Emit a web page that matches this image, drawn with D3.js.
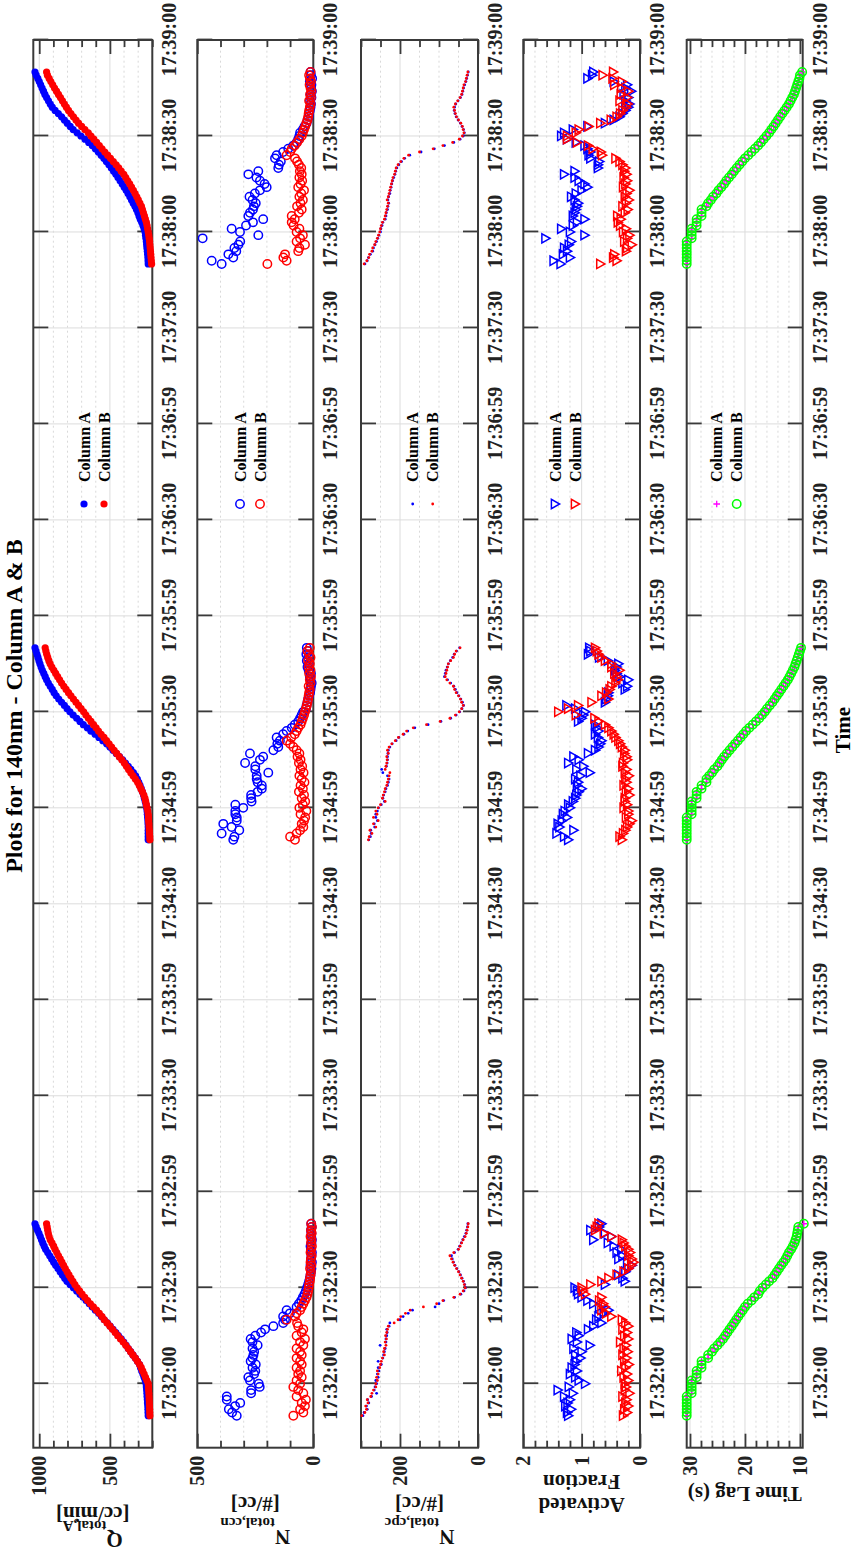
<!DOCTYPE html>
<html>
<head>
<meta charset="utf-8">
<title>Plots for 140nm - Column A &amp; B</title>
<script src="https://cdn.jsdelivr.net/npm/d3@7"></script>
<style>
  body { margin: 0; background: #fff; }
  svg text { font-family: 'Liberation Serif', serif; font-weight: bold; }
</style>
</head>
<body>
<svg id="chart" width="855" height="1560"></svg>
<script>
// ---- data ----
// time tick labels exactly as printed
const tickLabels = ['17:32:00', '17:32:30', '17:32:59', '17:33:30', '17:33:59', '17:34:30', '17:34:59',
  '17:35:30', '17:35:59', '17:36:30', '17:36:59', '17:37:30', '17:38:00', '17:38:30', '17:39:00'];

// three scans, one sample per second starting here
const burstStarts = ['17:31:50', '17:34:50', '17:37:50'];

// Q total,A [cc/min]
const qA = [
  [229,230,231,232,234,235,237,238,240,242, 244,250,258,266,275,283,290,305,320,337, 353,370,385,402,420,440,458,478,498,518,
   540,560,580,603,625,646,668,690,712,735, 758,782,804,820,836,852,868,884,898,912, 926,940,955,965,975,984,993,1002,1012,1022, 1030],
  [229,229,229,229,229,230,231,233,235,237, 240,244,250,256,262,270,278,287,296,306, 318,334,352,370,390,410,432,455,478,500,
   523,550,578,605,635,660,688,712,735,760, 783,803,822,842,862,880,895,908,922,936, 948,958,968,978,987,995,1002,1009,1016,1023, 1030],
  [229,230,231,233,235,238,240,242,245,248, 251,258,266,275,285,294,302,312,323,335, 347,359,372,385,399,413,428,443,458,474,
   490,507,525,543,562,582,603,625,650,676, 705,732,760,781,802,822,842,865,888,908, 922,935,948,960,970,980,990,1000,1010,1022, 1030]
];
const qB = [
  [217,218,219,220,221,222,223,224,226,227, 229,238,248,258,268,278,290,305,320,337, 354,370,388,406,425,445,463,482,500,520,
   540,556,575,595,617,638,658,678,697,715, 732,748,762,776,790,803,816,828,840,852, 864,876,888,898,910,922,930,936,940,944, 948],
  [217,218,220,221,223,224,226,227,229,232, 237,242,247,252,260,270,281,292,304,320, 336,352,368,383,398,416,434,452,470,488,
   506,524,542,562,581,598,616,634,652,670, 686,704,722,740,758,776,793,810,826,842, 856,870,884,897,911,923,932,940,947,953, 958],
  [205,207,209,211,213,215,217,219,222,225, 229,233,237,242,249,256,263,270,277,288, 299,310,322,334,347,360,374,388,402,420,
   438,456,476,496,516,536,556,575,594,614, 634,653,677,700,722,740,758,776,793,808, 822,836,850,864,878,892,905,918,930,942, 948]
];

// N total,ccn [#/cc]
const ccnA = [
  [330,350,364,337,315,373,373,268,268,231, 235,273,280,255,250,262,248,270,262,258, 255,262,240,262,270,250,225,208,172,130,
   122,130,101,115,72,62,52,45,38,32, 27,22,18,15,12,10,8,12,6,10, 8,6,10,12,8,6,9,8,10,7, 9],
  [345,340,395,319,352,388,330,330,336,336, 302,336,266,268,268,240,222,222,240,244, 244,194,250,250,294,230,216,273,172,151,
   155,144,158,130,115,93,80,65,57,50, 43,32,29,25,22,18,14,12,10,7, 12,15,10,20,25,18,28,22,30,25, 28],
  [395,438,345,366,332,340,323,315,477,237, 316,352,290,260,216,280,273,260,256,248, 262,275,252,230,201,210,230,245,280,237,
   151,148,140,165,158,130,108,86,72,65, 60,57,45,38,29,25,20,18,15,12, 10,14,8,12,6,10,8,15,5,10, 12]
];
const ccnB = [
  [86,43,57,36,50,32,72,43,65,86, 57,72,50,65,57,72,50,57,72,50, 57,72,43,57,36,72,50,43,65,70,
   115,79,72,57,50,43,36,29,25,22, 20,18,15,14,12,10,14,8,12,10, 7,12,9,6,10,8,12,7,10,6, 9],
  [79,100,72,57,43,50,40,35,55,30, 60,45,35,50,40,62,45,55,38,50, 60,42,55,48,62,55,68,60,72,86,
   100,115,95,80,72,65,55,50,45,40, 36,32,28,25,22,20,18,15,20,12, 15,10,18,12,20,15,22,12,18,25, 15],
  [198,115,129,122,65,60,36,72,57,45, 72,60,85,93,80,93,62,50,70,55, 45,60,52,40,65,55,48,60,50,58,
   52,62,70,79,115,100,93,80,70,60, 50,45,40,35,30,25,22,20,18,15, 12,18,10,14,8,12,16,10,14,18, 12]
];

// N total,cpc [#/cc]
const cpcA = [
  [295,292,284,286,280,283,273,260,266,264, 260,262,256,258,254,256,248,256,244,242, 240,238,251,236,236,234,233,234,228,226,
   200,192,179,168,110,100,88,60,44,36, 32,34,37,41,45,49,54,59,63,66, 68,60,51,47,43,39,35,31,29,27, 26],
  [280,276,274,275,265,266,258,262,262,258, 255,248,240,244,242,238,236,232,230,228, 232,244,247,235,233,232,232,231,230,226,
   220,210,203,190,180,162,128,95,70,56, 47,41,37,40,44,49,54,58,62,70, 78,86,84,82,79,76,71,65,61,55, 47],
  [290,284,281,276,270,268,264,260,257,254, 250,249,246,244,238,236,235,232,231,229, 231,229,226,225,223,221,219,216,213,211,
   208,203,196,188,175,146,112,86,62,46, 38,35,37,41,45,51,56,59,61,60, 57,51,45,41,39,37,34,31,29,27, 25]
];
const cpcB = [
  [298,290,286,288,282,284,275,272,268,262, 262,258,260,256,258,252,250,248,245,240, 242,240,236,238,235,237,234,232,230,215,
   205,198,186,174,140,106,90,62,46,38, 33,35,38,42,46,50,55,60,64,68, 72,62,50,46,42,38,33,30,28,26, 25],
  [281,279,272,277,262,268,256,268,259,262, 256,250,238,245,243,240,238,234,232,230, 228,226,238,236,234,233,234,230,232,228,
   221,212,204,192,183,166,132,97,72,58, 48,42,38,42,45,50,56,60,63,72, 80,84,82,80,78,76,70,63,60,56, 46],
  [292,285,280,278,272,270,265,262,258,255, 252,250,248,245,240,238,236,234,232,230, 233,230,228,226,224,222,220,218,214,212,
   210,205,198,190,178,150,115,90,65,48, 40,36,38,40,44,50,55,58,60,62, 58,52,46,42,40,38,36,32,30,28, 26]
];

// Activated Fraction
const afA = [
  [1.23,1.25,1.18,1.28,1.24,1.20,1.30,1.15,1.41,1.22, 0.94,1.05,1.11,1.20,1.08,1.17,1.12,1.09,1.02,1.11, 1.00,1.14,0.86,1.08,1.17,1.05,1.09,0.89,0.80,0.66,
   0.75,0.71,0.62,0.54,0.70,0.80,0.90,1.00,1.06,1.08, 1.12,0.60,0.26,0.30,0.37,0.25,0.20,0.14,0.22,0.37, 0.30,0.40,0.32,0.45,0.55,0.80,0.49,0.60,0.85,0.70, 0.66],
  [1.23,1.30,1.43,1.14,1.38,1.41,1.34,1.25,1.32,1.29, 1.20,1.23,1.15,1.11,1.09,1.05,1.00,1.08,1.06,1.11, 1.02,0.86,1.09,0.97,1.23,1.05,1.14,0.89,0.77,0.71,
   0.68,0.66,0.72,0.77,0.71,0.74,0.77,1.06,1.00,0.97, 0.94,1.11,1.26,0.60,0.58,0.55,0.54,0.26,0.22,0.30, 0.20,0.35,0.40,0.43,0.40,0.37,0.55,0.70,0.89,0.85, 0.87],
  [1.36,1.48,1.20,1.32,1.25,1.30,1.22,1.18,1.62,0.95, 1.20,1.35,1.15,1.08,0.95,1.15,1.12,1.10,1.08,1.06, 1.12,1.18,1.10,1.00,0.90,0.95,1.05,1.12,1.30,1.12,
   0.72,0.72,0.70,0.85,0.88,0.85,0.90,0.95,1.10,1.25, 1.35,1.30,1.15,0.90,0.60,0.45,0.35,0.30,0.25,0.20, 0.18,0.25,0.20,0.28,0.15,0.25,0.22,0.45,0.90,0.82, 0.80]
];
const afB = [
  [0.29,0.22,0.27,0.20,0.25,0.23,0.30,0.18,0.26,0.24, 0.26,0.20,0.28,0.22,0.32,0.25,0.19,0.27,0.23,0.30, 0.21,0.28,0.24,0.34,0.20,0.27,0.22,0.30,0.20,0.25,
   0.31,0.49,0.58,0.66,0.60,0.63,0.70,0.66,0.94,0.98, 1.00,0.85,0.66,0.54,0.40,0.28,0.20,0.15,0.11,0.14, 0.20,0.17,0.20,0.25,0.28,0.31,0.49,0.62,0.77,0.74, 0.71],
  [0.31,0.35,0.29,0.25,0.22,0.18,0.14,0.24,0.20,0.20, 0.28,0.22,0.26,0.26,0.18,0.24,0.20,0.28,0.23,0.25, 0.19,0.26,0.23,0.30,0.29,0.22,0.23,0.27,0.26,0.31,
   0.34,0.37,0.42,0.45,0.49,0.54,0.60,0.71,0.78,1.10, 1.40,1.23,1.06,0.83,0.54,0.66,0.58,0.52,0.49,0.42, 0.38,0.40,0.44,0.35,0.49,0.49,0.60,0.66,0.71,0.74, 0.77],
  [0.68,0.40,0.46,0.44,0.24,0.22,0.14,0.27,0.22,0.18, 0.29,0.24,0.34,0.38,0.33,0.39,0.26,0.21,0.30,0.24, 0.19,0.26,0.23,0.18,0.29,0.25,0.22,0.28,0.23,0.27,
   0.25,0.30,0.35,0.42,0.65,0.67,0.81,0.89,1.08,1.25, 1.25,1.10,1.05,0.88,0.68,0.50,0.40,0.34,0.30,0.24, 0.21,0.35,0.22,0.33,0.20,0.32,0.44,0.31,0.47,0.64, 0.46]
];

// Time Lag (s) - both columns carry the same lag
const lagA = [
  [30.6,30.6,30.6,30.6,30.6,30.6,30.6,29.7,29.7,29.7, 29.7,29.7,28.8,28.8,28.8,27.9,27.9,27.9,26.7,26.7, 26.0,25.6,25.0,24.5,24.0,23.6,23.2,22.8,22.4,22.0,
   21.6,21.2,20.8,20.4,20.0,19.5,18.8,18.3,17.6,17.3, 16.8,16.2,15.6,15.0,14.6,14.2,13.8,13.4,13.0,12.6, 12.3,12.0,11.6,11.3,11.0,10.8,10.6,10.5,10.4,10.3, 9.3],
  [30.6,30.6,30.6,30.6,30.6,30.6,30.6,30.6,29.7,29.7, 29.7,29.7,29.7,28.8,28.8,28.8,27.9,27.9,27.0,27.0, 26.5,26.0,25.6,25.0,24.6,24.2,23.8,23.3,22.8,22.3,
   21.8,21.3,20.8,20.3,19.8,19.2,18.6,18.0,17.4,16.9, 16.4,16.0,15.5,15.0,14.6,14.2,13.8,13.4,13.0,12.6, 12.2,11.9,11.6,11.3,11.0,10.8,10.6,10.4,10.2,10.0, 9.8],
  [30.6,30.6,30.6,30.6,30.6,30.6,30.6,30.6,29.7,29.7, 29.7,29.7,28.8,28.8,28.8,27.9,27.9,27.9,27.0,26.7, 26.2,25.8,25.2,24.8,24.3,23.8,23.4,22.9,22.4,22.0,
   21.5,21.0,20.5,20.0,19.4,18.8,18.2,17.6,17.1,16.6, 16.1,15.6,15.2,14.8,14.4,14.0,13.6,13.2,12.8,12.4, 12.0,11.7,11.4,11.1,10.9,10.7,10.5,10.3,10.1,10.0, 9.6]
];
const lagB = lagA;

// ---- layout: the figure is drawn landscape and then turned a quarter turn ----
const svg = d3.select('#chart');
const root = svg.append('g').attr('transform', 'translate(0,1560) rotate(-90)');

const parseT = d3.timeParse('%H:%M:%S');
const x = d3.scaleTime()
  .domain([parseT('17:31:40'), parseT('17:39:00')])
  .range([112.3, 1520]);
const tickTimes = d3.timeSecond.every(30).range(parseT('17:32:00'), parseT('17:39:01'));

const INK = '#3a3a3a';

const panels = [
  { top: 33.3, bottom: 152.3, domain: [200, 1042], major: 500, minor: 100,
    A: qA, B: qB, markA: 'disc', markB: 'disc', colA: '#0000ff', colB: '#ff0000', legY: 84,
    label: [{ main: 'Q', sub: 'total,A', at: 27 }, { main: '[cc/min]', at: 53 }] },
  { top: 197.3, bottom: 313.3, domain: [0, 500], major: 500, minor: 100,
    A: ccnA, B: ccnB, markA: 'ring', markB: 'ring', colA: '#0000ff', colB: '#ff0000', legY: 240,
    label: [{ main: 'N', sub: 'total,ccn', at: 30 }, { main: '[#/cc]', at: 63 }] },
  { top: 361, bottom: 478, domain: [0, 300], major: 200, minor: 50,
    A: cpcA, B: cpcB, markA: 'dot', markB: 'dot', colA: '#0000ff', colB: '#ff0000', legY: 412.7,
    label: [{ main: 'N', sub: 'total,cpc', at: 30 }, { main: '[#/cc]', at: 63 }] },
  { top: 523.3, bottom: 640, domain: [0, 2], major: 1, minor: 0.2,
    A: afA, B: afB, markA: 'tri', markB: 'tri', colA: '#0000ff', colB: '#ff0000', legY: 555,
    label: [{ main: 'Activated', at: 62 }, { main: 'Fraction', at: 85 }] },
  { top: 686.7, bottom: 802.7, domain: [9.5, 30.6], major: 10, minor: 2,
    A: lagA, B: lagB, markA: 'plus', markB: 'ring', colA: '#ff00ff', colB: '#00ff00', legY: 716.7,
    label: [{ main: 'Time Lag (s)', at: 73 }] }
];

// one marker of a given kind at (0,0)
function addMark(sel, kind, color) {
  if (kind === 'disc') {
    sel.append('circle').attr('r', 3.6).attr('fill', color);
  } else if (kind === 'ring') {
    sel.append('circle').attr('r', 4.2).attr('fill', 'none').attr('stroke', color).attr('stroke-width', 1.5);
  } else if (kind === 'dot') {
    sel.append('circle').attr('r', 1.4).attr('fill', color);
  } else if (kind === 'tri') {
    sel.append('path').attr('d', 'M-4.6,-3.6L4.6,-3.6L0,4.6Z')
      .attr('fill', 'none').attr('stroke', color).attr('stroke-width', 1.5);
  } else if (kind === 'plus') {
    sel.append('path').attr('d', 'M-3.3,0H3.3M0,-3.3V3.3')
      .attr('stroke', color).attr('stroke-width', 1.3);
  }
}

function seriesPoints(series) {
  const pts = [];
  series.forEach((burst, b) => {
    const t0 = parseT(burstStarts[b]);
    burst.forEach((v, i) => pts.push({ t: d3.timeSecond.offset(t0, i), v }));
  });
  return pts;
}

function styleAxis(g) {
  g.select('.domain').remove();
  g.selectAll('line').attr('stroke', INK).attr('stroke-width', 1.8);
  g.attr('font-family', null).attr('font-size', 20);
  g.selectAll('text').attr('fill', '#222');
}

panels.forEach((p) => {
  const y = d3.scaleLinear().domain(p.domain).range([p.bottom, p.top]);
  const [lo, hi] = p.domain;
  const majors = d3.range(Math.ceil(lo / p.major - 1e-9) * p.major, hi + 1e-9, p.major);
  const minors = d3.range(Math.ceil(lo / p.minor - 1e-9) * p.minor, hi + 1e-9, p.minor)
    .filter((v) => !majors.some((m) => Math.abs(m - v) < 1e-6));
  const g = root.append('g');
  const x0 = x.range()[0], x1 = x.range()[1];

  // grid
  g.append('g').selectAll('line').data(minors).join('line')
    .attr('x1', x0).attr('x2', x1).attr('y1', y).attr('y2', y)
    .attr('stroke', '#cfcfcf').attr('stroke-width', 0.8).attr('stroke-dasharray', '2,3');
  g.append('g').selectAll('line').data(majors).join('line')
    .attr('x1', x0).attr('x2', x1).attr('y1', y).attr('y2', y)
    .attr('stroke', '#dcdcdc').attr('stroke-width', 1);
  g.append('g').selectAll('line').data(tickTimes).join('line')
    .attr('x1', x).attr('x2', x).attr('y1', p.top).attr('y2', p.bottom)
    .attr('stroke', '#dcdcdc').attr('stroke-width', 1);

  // time axis, ticks inward on both sides
  g.append('g').attr('transform', `translate(0,${p.bottom})`)
    .call(d3.axisBottom(x).tickValues(tickTimes).tickSize(-15).tickPadding(10)
      .tickFormat((d, i) => tickLabels[i]))
    .call(styleAxis);
  g.append('g').attr('transform', `translate(0,${p.top})`)
    .call(d3.axisTop(x).tickValues(tickTimes).tickSize(-15).tickFormat(''))
    .call(styleAxis);

  // value axis, mirrored on the right
  g.append('g').attr('transform', `translate(${x0},0)`)
    .call(d3.axisLeft(y).tickValues(majors).tickSize(-14).tickPadding(8).tickFormat(d3.format('~g')))
    .call(styleAxis);
  g.append('g').attr('transform', `translate(${x0},0)`)
    .call(d3.axisLeft(y).tickValues(minors).tickSize(-7).tickFormat(''))
    .call(styleAxis);
  g.append('g').attr('transform', `translate(${x1},0)`)
    .call(d3.axisRight(y).tickValues(majors).tickSize(-14).tickFormat(''))
    .call(styleAxis);
  g.append('g').attr('transform', `translate(${x1},0)`)
    .call(d3.axisRight(y).tickValues(minors).tickSize(-7).tickFormat(''))
    .call(styleAxis);

  // border
  g.append('rect').attr('x', x0).attr('y', p.top).attr('width', x1 - x0).attr('height', p.bottom - p.top)
    .attr('fill', 'none').attr('stroke', INK).attr('stroke-width', 2);

  // data
  [['A', p.markA, p.colA], ['B', p.markB, p.colB]].forEach(([key, kind, col]) => {
    g.append('g').selectAll('g').data(seriesPoints(p[key])).join('g')
      .attr('transform', (d) => `translate(${x(d.t)},${y(d.v)})`)
      .each(function () { addMark(d3.select(this), kind, col); });
  });

  // legend
  const leg = g.append('g');
  [['Column A', p.markA, p.colA], ['Column B', p.markB, p.colB]].forEach(([txt, kind, col], k) => {
    const row = leg.append('g').attr('transform', `translate(1056,${p.legY + k * 20})`);
    addMark(row, kind, col);
    row.append('text').attr('x', 22).attr('dy', '0.35em').attr('font-size', 16).text(txt);
  });

  // axis label, read bottom to top
  const mid = (p.top + p.bottom) / 2;
  p.label.forEach((ln) => {
    const t = g.append('text')
      .attr('transform', `translate(${ln.at},${mid}) rotate(-90)`)
      .attr('text-anchor', 'middle').attr('font-size', 21).attr('fill', '#111');
    t.append('tspan').text(ln.main);
    if (ln.sub) t.append('tspan').attr('font-size', 15).attr('dy', 12).text(ln.sub);
  });
});

// title and time label
root.append('text').attr('x', 854).attr('y', 22).attr('text-anchor', 'middle')
  .attr('font-size', 24).attr('fill', '#000').text('Plots for 140nm - Column A & B');
root.append('text').attr('x', 830).attr('y', 850).attr('text-anchor', 'middle')
  .attr('font-size', 21).attr('fill', '#000').text('Time');
</script>
</body>
</html>
